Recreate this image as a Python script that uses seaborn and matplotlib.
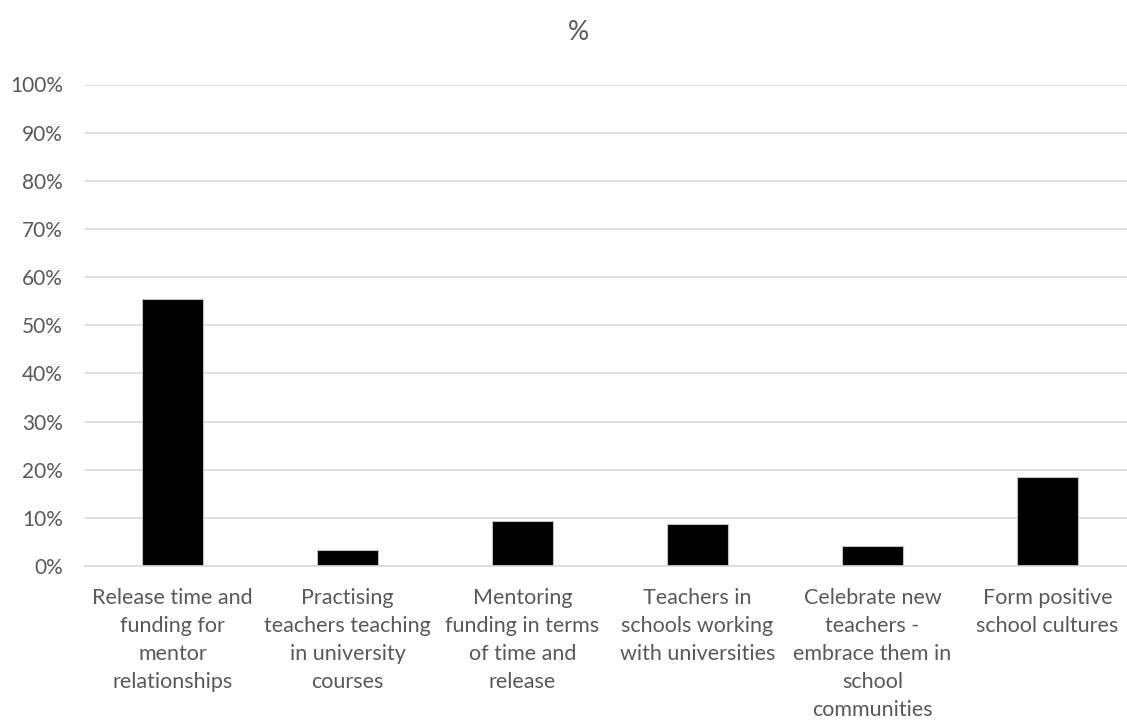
import matplotlib
matplotlib.use("Agg")
import matplotlib.pyplot as plt
import matplotlib.ticker as mticker
import seaborn as sns
import pandas as pd

categories = [
    "Release time and\nfunding for\nmentor\nrelationships",
    "Practising\nteachers teaching\nin university\ncourses",
    "Mentoring\nfunding in terms\nof time and\nrelease",
    "Teachers in\nschools working\nwith universities",
    "Celebrate new\nteachers -\nembrace them in\nschool\ncommunities",
    "Form positive\nschool cultures",
]
shares = [0.554, 0.034, 0.094, 0.087, 0.041, 0.184]
y_ticks = [i / 10 for i in range(11)]

sns.set_theme(style="white")
plt.rcParams["font.family"] = ["Lato", "DejaVu Sans"]

df = pd.DataFrame({"category": categories, "share": shares})

W, H = 1127, 726
fig = plt.figure(figsize=(W / 100, H / 100), dpi=100)
ax = fig.add_axes([85 / W, (H - 566) / H, 1050 / W, 481.5 / H])

sns.barplot(data=df, x="category", y="share", color="black", width=0.35,
            edgecolor="#bfbfbf", linewidth=0.8, saturation=1, ax=ax)

ax.set_ylim(0, 1)
ax.set_yticks(y_ticks)
ax.yaxis.set_major_formatter(mticker.PercentFormatter(1.0, decimals=0))
ax.grid(axis="y", color="#d9d9d9", linewidth=1.2)
ax.set_axisbelow(True)
for s in ["top", "right", "left"]:
    ax.spines[s].set_visible(False)
ax.spines["bottom"].set_color("#d9d9d9")
ax.spines["bottom"].set_linewidth(1.2)

ax.tick_params(axis="y", length=0, colors="#595959", labelsize=15, pad=16)
ax.tick_params(axis="x", length=0, colors="#595959", labelsize=15.5, pad=16)
for lbl in ax.get_xticklabels():
    lbl.set_linespacing(1.5)
ax.set_xlabel("")
ax.set_ylabel("")

fig.text(578 / W, 1 - 33 / H, "%", ha="center", va="center",
         fontsize=19, color="#595959")

fig.savefig("out.png", dpi=100)
